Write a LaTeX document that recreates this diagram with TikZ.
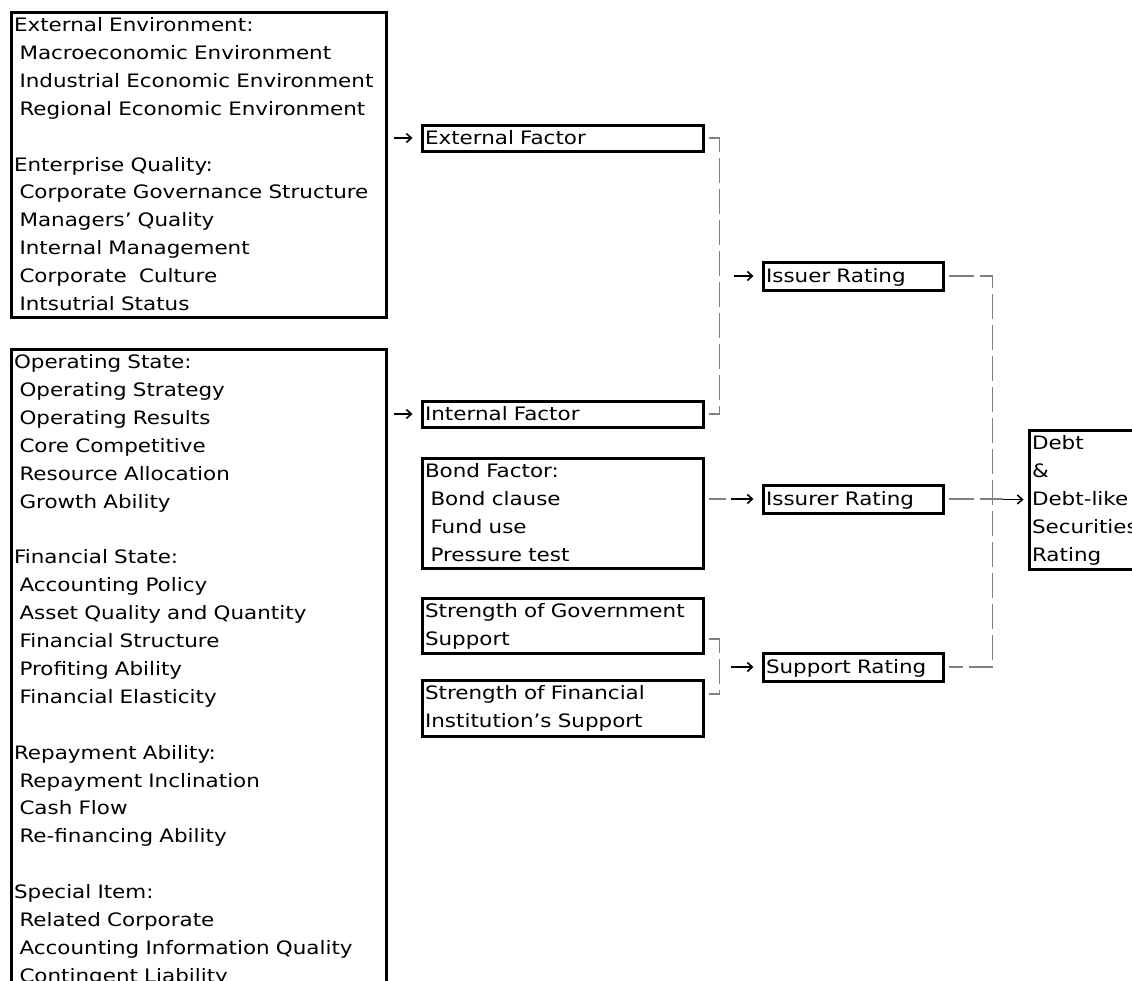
\documentclass[tikz,border=0pt]{standalone}
\usepackage{fontspec}
\setmainfont[FakeStretch=1.16]{DejaVu Sans}
\usetikzlibrary{arrows.meta,calc}
\newcommand\ind{\hspace*{5.5pt}}
\tikzset{
  bx/.style={draw, line width=3pt, anchor=north west, align=left, inner xsep=3pt, inner ysep=3pt,
    font=\fontsize{18.5}{27.9}\selectfont},
  dsh/.style={draw={rgb,255:red,128;green,128;blue,128}, line width=1.3pt, dash pattern=on 25pt off 6pt},
  arr/.style={draw=black, line width=1.6pt, -{Straight Barb[length=5pt,width=9pt]}}
}
\begin{document}
\begin{tikzpicture}[x=1pt,y=-1pt]
\useasboundingbox (0,0) rectangle (1132,980);
\node[bx, text width=369pt, text height=16.5pt, text depth=282.5pt] (b1) at (9.5,10.5)
{External Environment:\\\ind Macroeconomic Environment\\\ind Industrial Economic Environment\\\ind Regional Economic Environment\\[27.9pt]Enterprise Quality:\\\ind Corporate Governance Structure\\\ind Managers' Quality\\\ind Internal Management\\\ind Corporate\ \ Culture\\\ind Intsutrial Status};
\node[bx, text width=369pt, text height=16.5pt, text depth=660pt] (b2) at (9.5,347.5)
{Operating State:\\\ind Operating Strategy\\\ind Operating Results\\\ind Core Competitive\\\ind Resource Allocation\\\ind Growth Ability\\[27.9pt]Financial State:\\\ind Accounting Policy\\\ind Asset Quality and Quantity\\\ind Financial Structure\\\ind Profiting Ability\\\ind Financial Elasticity\\[27.9pt]Repayment Ability:\\\ind Repayment Inclination\\\ind Cash Flow\\\ind Re-financing Ability\\[27.9pt]Special Item:\\\ind Related Corporate\\\ind Accounting Information Quality\\\ind Contingent Liability};
\node[bx, inner ysep=2pt, text width=275pt, text height=17.5pt, text depth=4.5pt] (ef) at (420.5,123.5) {External Factor};
\node[bx, inner ysep=2pt, text width=275pt, text height=17.5pt, text depth=4.5pt] (if) at (420.5,399.5) {Internal Factor};
\node[bx, text width=275pt, text height=16.5pt, text depth=87.5pt] (bf) at (420.5,456.5) {Bond Factor:\\\ind Bond clause\\\ind Fund use\\\ind Pressure test};
\node[bx, text width=275pt, text height=16.5pt, text depth=32.5pt] (sg) at (420.5,596.5) {Strength of Government\\Support};
\node[bx, text width=275pt, text height=16.5pt, text depth=33.5pt] (sf) at (420.5,678.5) {Strength of Financial\\Institution's Support};
\node[bx, text width=174pt, text height=17.5pt, text depth=4.5pt] (ir) at (761.5,260.5) {Issuer Rating};
\node[bx, text width=174pt, text height=17.5pt, text depth=4.5pt] (isr) at (761.5,483.5) {Issurer Rating};
\node[bx, text width=174pt, text height=17.5pt, text depth=4.5pt] (sr) at (761.5,651.5) {Support Rating};
\node[bx, text width=150pt, text height=16.5pt, text depth=116.5pt] (debt) at (1027.5,428.5) {Debt\\\&\\Debt-like\\Securities\\Rating};
% arrows from big boxes
\draw[arr] ($(b1.east |- ef.west)+(6,0)$) -- ($(ef.west)+(-8,0)$);
\draw[arr] ($(b2.east |- if.west)+(6,0)$) -- ($(if.west)+(-8,0)$);
% left bracket
\draw[dsh] ($(ef.east)+(4,0)$) -- ++(11,0) |- ($(if.east)+(4,0)$);
\coordinate (m1) at ($(ef.east |- ir.west)+(15,0)$);
\draw[arr] ($(m1)+(14,0)$) -- ($(ir.west)+(-8,0)$);
% bond factor
\draw[dsh] ($(bf.east |- isr.west)+(4,0)$) -- ++(17,0);
\draw[arr] ($(isr.west)+(-31,0)$) -- ($(isr.west)+(-8,0)$);
% strength bracket
\draw[dsh] ($(sg.east |- sr.west)+(4,-28)$) -- ++(11,0) -- ++(0,55) -- ++(-11,0);
\draw[arr] ($(sr.west)+(-31,0)$) -- ($(sr.west)+(-8,0)$);
% right bracket
\draw[dsh] ($(ir.east)+(4,0)$) -- ++(44,0) |- ($(sr.east)+(4,0)$);
\draw[dsh] ($(isr.east)+(4,0)$) -- ++(54,0);
\draw[arr] ($(debt.west)+(-25,0)$) -- ($(debt.west)+(-4,0)$);
\end{tikzpicture}
\end{document}
